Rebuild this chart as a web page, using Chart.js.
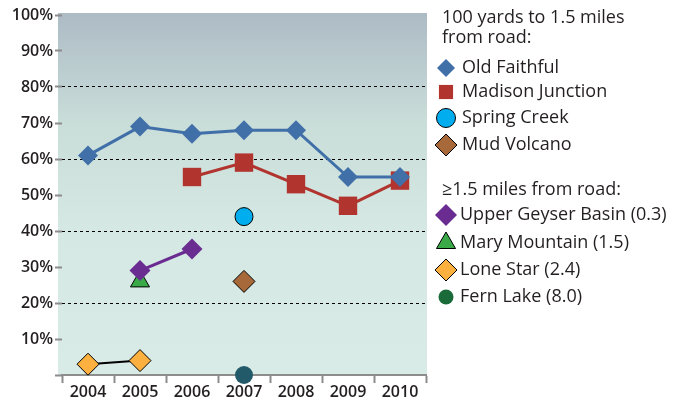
<!DOCTYPE html>
<html>
<head>
<meta charset="utf-8">
<script src="https://cdn.jsdelivr.net/npm/chart.js@4.4.1/dist/chart.umd.min.js"></script>
<style>
  html, body { margin: 0; padding: 0; background: #fff; }
  canvas { display: block; }
</style>
</head>
<body>
<canvas id="chart" width="686" height="402"></canvas>
<script>
const years = ["2004", "2005", "2006", "2007", "2008", "2009", "2010"];
const yTicks = [0, 10, 20, 30, 40, 50, 60, 70, 80, 90, 100];
const dashedAt = [20, 40, 60, 80];

const oldFaithful = [61, 69, 67, 68, 68, 55, 55];
const madisonJunction = [null, null, 55, 59, 53, 47, 54];
const springCreek = [null, null, null, 44, null, null, null];
const mudVolcano = [null, null, null, 26, null, null, null];
const upperGeyserBasin = [null, 29, 35, null, null, null, null];
const maryMountain = [null, 26, null, null, null, null, null];
const loneStar = [3, 4, null, null, null, null, null];
const fernLake = [null, null, null, 0, null, null, null];

const headingNear = ["100 yards to 1.5 miles", "from road:"];
const headingFar = ["\u22651.5 miles from road:"];

const FONT = "'Open Sans', 'Noto Sans', sans-serif";

const series = (label, data, color, style, radius, opts = {}) => ({
    label,
    data,
    borderColor: opts.line || color,
    backgroundColor: color,
    pointBackgroundColor: color,
    pointBorderColor: opts.edge || color,
    pointBorderWidth: opts.edge ? 1 : 0,
    pointStyle: style,
    pointRadius: radius,
    pointHoverRadius: radius,
    borderWidth: opts.width || 3,
    clip: false,
    legendColor: opts.legendColor || color,
    legendRadius: opts.legendRadius || radius,
});

const datasets = [
    series("Old Faithful", oldFaithful, "#4170a9", "rectRot", 10, { legendRadius: 9 }),
    series("Madison Junction", madisonJunction, "#b1342f", "rect", 13, { legendRadius: 10 }),
    series("Spring Creek", springCreek, "#00aeef", "circle", 9, { edge: "#000", legendRadius: 9.5 }),
    series("Mud Volcano", mudVolcano, "#a8693a", "rectRot", 11, { edge: "#000" }),
    series("Upper Geyser Basin (0.3)", upperGeyserBasin, "#6a2c91", "rectRot", 10.5, { legendRadius: 11 }),
    series("Mary Mountain (1.5)", maryMountain, "#3aaa48", "triangle", 11, { edge: "#000", legendRadius: 11 }),
    series("Lone Star (2.4)", loneStar, "#fbb040", "rectRot", 11, { edge: "#000", line: "#000", width: 2 }),
    series("Fern Lake (8.0)", fernLake, "#235a6a", "circle", 9, { legendColor: "#1b6b3a", legendRadius: 7.5 }),
];

const drawMarker = (ctx, style, x, y, r) => {
    ctx.beginPath();
    if (style === "rectRot") {
        ctx.moveTo(x - r, y); ctx.lineTo(x, y - r); ctx.lineTo(x + r, y); ctx.lineTo(x, y + r);
        ctx.closePath();
    } else if (style === "rect") {
        const s = r * Math.SQRT1_2;
        ctx.rect(x - s, y - s, 2 * s, 2 * s);
    } else if (style === "triangle") {
        for (let i = 0; i < 3; i++) {
            const a = i * 2 * Math.PI / 3;
            const px = x + Math.sin(a) * r, py = y - Math.cos(a) * r;
            i ? ctx.lineTo(px, py) : ctx.moveTo(px, py);
        }
        ctx.closePath();
    } else {
        ctx.arc(x, y, r, 0, Math.PI * 2);
    }
};

const plotBackground = {
    id: "plotBackground",
    beforeDraw(chart) {
        const { ctx, chartArea: a } = chart;
        const g = ctx.createLinearGradient(0, a.top - 2, 0, a.bottom);
        g.addColorStop(0, "#adbbc5");
        g.addColorStop(0.3, "#c9ddd9");
        g.addColorStop(0.6, "#d5e8e3");
        g.addColorStop(1, "#d8ebe6");
        ctx.save();
        ctx.fillStyle = g;
        ctx.fillRect(a.left - 4, a.top - 2, a.right - a.left + 5, a.bottom - a.top + 2);
        ctx.restore();
    },
};

const sideLegend = {
    id: "sideLegend",
    afterDraw(chart) {
        const ctx = chart.ctx;
        ctx.save();
        ctx.font = "18px " + FONT;
        ctx.fillStyle = "#231f20";
        ctx.textBaseline = "middle";
        ctx.textAlign = "left";
        headingNear.forEach((t, i) => ctx.fillText(t, 442, 18 + i * 20));
        headingFar.forEach((t, i) => ctx.fillText(t, 442, 190 + i * 20));
        const rows = [68, 92, 118, 145, 215, 243, 270, 297];
        chart.data.datasets.forEach((ds, i) => {
            const y = rows[i];
            drawMarker(ctx, ds.pointStyle, 446, y, ds.legendRadius);
            ctx.fillStyle = ds.legendColor;
            ctx.fill();
            if (ds.pointBorderWidth) {
                ctx.lineWidth = 1;
                ctx.strokeStyle = "#000";
                ctx.stroke();
            }
            ctx.fillStyle = "#231f20";
            ctx.fillText(ds.label, i < 4 ? 462 : 460, y);
        });
        ctx.restore();
    },
};

new Chart(document.getElementById("chart"), {
    type: "line",
    data: { labels: years, datasets },
    plugins: [plotBackground, sideLegend],
    options: {
        responsive: false,
        animation: false,
        layout: { padding: { top: 15, right: 260, bottom: 0, left: 0 } },
        plugins: { legend: { display: false }, tooltip: { enabled: false } },
        elements: { line: { tension: 0 } },
        scales: {
            x: {
                type: "category",
                offset: true,
                border: { display: true, color: "#8c8c8c", width: 2 },
                grid: {
                    offset: true,
                    drawOnChartArea: false,
                    drawTicks: true,
                    tickLength: 8,
                    tickColor: "#8c8c8c",
                    tickWidth: 2,
                },
                ticks: { color: "#231f20", font: { family: FONT, size: 16, weight: "600" }, padding: 0, maxRotation: 0 },
                afterFit(scale) { scale.height = 27; },
            },
            y: {
                min: 0,
                max: 100,
                afterBuildTicks(scale) { scale.ticks = yTicks.map((v) => ({ value: v })); },
                border: { display: false, dash: [3, 3] },
                grid: {
                    color: (c) => (dashedAt.includes(c.tick && c.tick.value) ? "#000" : "rgba(0,0,0,0)"),
                    lineWidth: 1,
                    tickLength: 7,
                    tickColor: "#8c8c8c",
                    tickWidth: 2,
                    tickBorderDash: [],
                },
                ticks: {
                    color: "#231f20",
                    font: { family: FONT, size: 16, weight: "600" },
                    padding: 2,
                    callback: (v) => (v === 0 ? "" : v + "%"),
                },
                afterFit(scale) { scale.width = 62; },
            },
        },
    },
});
</script>
</body>
</html>
